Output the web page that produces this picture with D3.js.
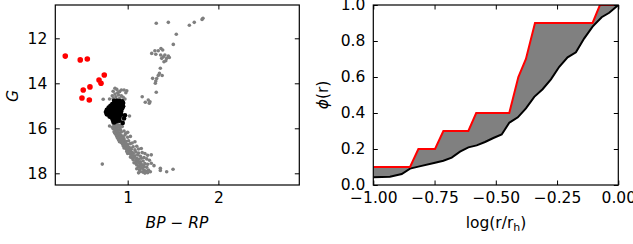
<!DOCTYPE html>
<html>
<head>
<meta charset="utf-8">
<script src="https://cdn.jsdelivr.net/npm/d3@7"></script>
<style>
  body { margin: 0; background: #fff; }
  svg text { font-family: "DejaVu Sans", sans-serif; fill: #000; }
</style>
</head>
<body>
<svg id="fig" width="633" height="244"></svg>
<script>
// left panel: colour-magnitude diagram, [BP-RP, G]
var grayStars = [
  // giant branch / red clump
  [1.315,11.33],[1.448,11.29],[1.536,11.82],[1.503,12.27],[1.68,11.42],[1.734,11.29],[1.82,11.16],[1.83,11.11],
  [1.265,12.67],[1.30,12.55],[1.337,12.55],[1.367,12.45],[1.386,12.52],[1.31,12.71],[1.364,12.74],[1.393,12.82],
  [1.41,12.74],[1.43,12.89],[1.448,12.79],[1.459,12.85],[1.42,13.0],[1.40,13.04],[1.375,12.89],
  [1.36,13.33],[1.35,13.56],[1.38,13.65],[1.337,13.65],[1.275,13.78],[1.32,13.79],[1.31,13.9],[1.305,14.0],
  [1.315,14.4],[1.16,14.6],[1.227,14.74],[1.194,14.84],[1.246,14.82],[1.238,14.89],
  // turnoff / subgiants
  [0.86,14.22],[0.88,14.27],[0.91,14.37],[0.93,14.30],[0.96,14.30],[0.98,14.42],[0.99,14.33],[0.89,14.42],
  [0.84,14.35],[0.86,14.48],[0.90,14.52],[0.93,14.55],[0.87,14.60],[0.95,14.62],[0.83,14.55],[0.80,14.70],
  [0.73,14.71],[0.84,14.68],[0.91,14.68],[0.97,14.70],[0.80,15.90],[1.02,15.45],
  // main sequence
  [0.84,15.78],[0.86,15.82],[0.88,15.80],[0.90,15.85],[0.85,15.88],[0.87,15.93],[0.89,15.90],[0.92,15.88],
  [0.83,15.95],[0.86,15.98],[0.88,15.97],[0.91,15.96],[0.94,15.92],
  [0.84,16.02],[0.86,16.05],[0.88,16.03],[0.90,16.08],[0.87,16.10],[0.89,16.13],[0.92,16.06],[0.85,16.15],
  [0.88,16.18],[0.90,16.20],[0.93,16.16],[0.96,16.12],[0.86,16.22],[0.91,16.24],[0.98,16.22],[1.00,16.18],
  [0.87,16.28],[0.89,16.30],[0.91,16.27],[0.93,16.32],[0.88,16.36],[0.90,16.39],[0.92,16.35],[0.95,16.38],
  [0.97,16.30],[0.89,16.44],[0.92,16.46],[0.94,16.42],[0.96,16.47],[1.00,16.40],[1.03,16.36],
  [0.90,16.52],[0.92,16.55],[0.94,16.51],[0.96,16.57],[0.91,16.60],[0.93,16.63],[0.95,16.61],[0.98,16.58],
  [1.01,16.55],[0.94,16.68],[0.96,16.70],[0.98,16.66],[1.00,16.72],[1.05,16.65],[1.08,16.60],[1.03,16.68],
  [0.95,16.78],[0.97,16.80],[0.99,16.77],[1.01,16.83],[0.96,16.87],[0.98,16.90],[1.00,16.86],[1.03,16.88],
  [1.06,16.82],[1.10,16.80],[0.99,16.95],[1.02,16.97],[1.04,16.93],[1.08,16.96],[1.12,16.92],[1.15,16.90],
  [0.99,17.03],[1.01,17.06],[1.03,17.02],[1.05,17.08],[1.00,17.12],[1.03,17.15],[1.06,17.11],[1.09,17.05],
  [1.12,17.10],[1.16,17.08],[1.19,17.12],[1.05,17.20],[1.08,17.22],[1.11,17.18],[1.14,17.24],[1.22,17.20],[1.26,17.18],
  [1.03,17.28],[1.05,17.32],[1.07,17.29],[1.10,17.34],[1.06,17.40],[1.09,17.43],[1.12,17.38],[1.15,17.33],
  [1.18,17.30],[1.21,17.36],[1.11,17.47],[1.14,17.49],[1.17,17.45],[1.24,17.42],
  [1.07,17.53],[1.09,17.56],[1.12,17.52],[1.14,17.58],[1.10,17.63],[1.13,17.66],[1.16,17.62],[1.19,17.57],
  [1.22,17.60],[1.26,17.55],[1.29,17.66],[1.12,17.72],[1.15,17.74],[1.18,17.70],[1.21,17.73],[1.36,17.78],
  [1.10,17.80],[1.13,17.84],[1.16,17.78],[1.18,17.86],[1.14,17.92],[1.17,17.95],[1.20,17.90],[1.23,17.85],
  [1.22,17.97],[1.25,17.93],[1.12,17.98],[1.19,17.99],[1.43,17.93],[1.50,17.82],[1.36,17.87],
  [0.72,17.59]
];

var blackStars = [
  [0.85,14.78],[0.88,14.77],[0.91,14.79],[0.94,14.80],[0.86,14.85],[0.90,14.84],[0.93,14.86],[0.95,14.88],
  [0.83,14.92],[0.87,14.93],[0.89,14.90],[0.92,14.94],[0.94,14.96],[0.81,15.00],[0.84,15.02],[0.86,14.99],
  [0.88,15.03],[0.91,15.01],[0.93,15.04],[0.95,15.02],
  [0.79,15.08],[0.82,15.10],[0.85,15.09],[0.87,15.12],[0.90,15.10],[0.92,15.13],[0.94,15.11],
  [0.77,15.18],[0.80,15.17],[0.83,15.20],[0.86,15.19],[0.88,15.22],[0.91,15.20],[0.93,15.23],
  [0.76,15.28],[0.78,15.31],[0.81,15.27],[0.84,15.30],[0.87,15.29],[0.89,15.32],[0.92,15.30],
  [0.77,15.38],[0.80,15.40],[0.83,15.37],[0.85,15.41],[0.88,15.39],[0.90,15.42],[0.93,15.40],
  [0.80,15.48],[0.82,15.50],[0.85,15.47],[0.87,15.51],[0.89,15.49],[0.91,15.52],
  [0.83,15.58],[0.86,15.60],[0.88,15.57],[0.90,15.61],[0.84,15.67],[0.87,15.70],[0.89,15.66],[0.85,15.74],
  [0.96,15.56],[0.945,15.76],[0.91,15.66],[0.97,15.42]
];

var redStars = [
  [0.312,12.79],[0.477,12.96],[0.555,12.92],[0.742,13.63],[0.684,13.85],
  [0.706,14.0],[0.584,14.16],[0.51,14.3],[0.496,14.65],[0.577,14.74]
];

var cmdXTicks = [1, 2];
var cmdYTicks = [12, 14, 16, 18];

// right panel: cumulative radial distributions
var redRadX = [-1.0,-0.85,-0.816,-0.748,-0.714,-0.612,-0.58,-0.445,-0.408,-0.377,-0.34,-0.105,-0.075,0.0];
var redRadY = [0.1,0.1,0.2,0.2,0.3,0.3,0.4,0.4,0.6,0.7,0.9,0.9,1.0,1.0];

var refRadX = [-1.0,-0.932,-0.884,-0.85,-0.816,-0.748,-0.714,-0.68,-0.646,-0.612,-0.578,-0.544,-0.51,-0.476,
               -0.445,-0.41,-0.377,-0.343,-0.309,-0.275,-0.241,-0.207,-0.173,-0.139,-0.105,-0.068,-0.037,0.0];
var refRadY = [0.043,0.046,0.061,0.091,0.102,0.124,0.135,0.152,0.185,0.209,0.22,0.239,0.261,0.281,
               0.346,0.376,0.426,0.49,0.532,0.587,0.657,0.709,0.737,0.815,0.88,0.932,0.957,1.0];

var radXTicks = [-1.0, -0.75, -0.5, -0.25, 0.0];
var radYTicks = [0, 0.2, 0.4, 0.6, 0.8, 1.0];

var svg = d3.select('#fig');
var fontSize = 15.5;
var tickLen = 4.5;

function minusFmt(f) {
  return function(d) { return f(d).replace('-', '\u2212'); };
}

function drawFrame(g, x, y, xTicks, yTicks, xFmt, yFmt) {
  var x0 = x.range()[0], x1 = x.range()[1];
  var y0 = y.range()[0], y1 = y.range()[1];

  // inward ticks on all four sides
  g.append('g').attr('transform', 'translate(0,' + y0 + ')')
    .call(d3.axisBottom(x).tickValues(xTicks).tickFormat(xFmt).tickSizeInner(-tickLen).tickSizeOuter(0).tickPadding(6.5));
  g.append('g').attr('transform', 'translate(0,' + y1 + ')')
    .call(d3.axisTop(x).tickValues(xTicks).tickFormat('').tickSizeInner(-tickLen).tickSizeOuter(0));
  g.append('g').attr('transform', 'translate(' + x0 + ',0)')
    .call(d3.axisLeft(y).tickValues(yTicks).tickFormat(yFmt).tickSizeInner(-tickLen).tickSizeOuter(0).tickPadding(8));
  g.append('g').attr('transform', 'translate(' + x1 + ',0)')
    .call(d3.axisRight(y).tickValues(yTicks).tickFormat('').tickSizeInner(-tickLen).tickSizeOuter(0));

  g.selectAll('.domain').remove();
  g.selectAll('.tick line').attr('stroke', '#000').attr('stroke-width', 1);
  g.selectAll('.tick text').style('font-size', fontSize + 'px').attr('fill', '#000');

  g.append('rect')
    .attr('x', x0).attr('y', y1)
    .attr('width', x1 - x0).attr('height', y0 - y1)
    .attr('fill', 'none').attr('stroke', '#000').attr('stroke-width', 1.2);
}

// ---------- left panel ----------
var xL = d3.scaleLinear().domain([0.202, 2.892]).range([55.3, 299.3]);
var yL = d3.scaleLinear().domain([18.52, 10.52]).range([185, 5]);

var left = svg.append('g');
left.append('clipPath').attr('id', 'clipL').append('rect')
  .attr('x', 55.3).attr('y', 5).attr('width', 244).attr('height', 180);

var dots = left.append('g').attr('clip-path', 'url(#clipL)');
dots.selectAll('.gray').data(grayStars).enter().append('circle')
  .attr('cx', function(d) { return xL(d[0]); })
  .attr('cy', function(d) { return yL(d[1]); })
  .attr('r', 1.8).attr('fill', '#7f7f7f');
dots.selectAll('.blk').data(blackStars).enter().append('circle')
  .attr('cx', function(d) { return xL(d[0]); })
  .attr('cy', function(d) { return yL(d[1]); })
  .attr('r', 2.3).attr('fill', '#000');
dots.selectAll('.red').data(redStars).enter().append('circle')
  .attr('cx', function(d) { return xL(d[0]); })
  .attr('cy', function(d) { return yL(d[1]); })
  .attr('r', 2.8).attr('fill', '#ff0000');

drawFrame(left, xL, yL, cmdXTicks, cmdYTicks, d3.format('d'), d3.format('d'));

var xlabL = left.append('text').attr('x', 177).attr('y', 228)
  .attr('text-anchor', 'middle').style('font-size', fontSize + 'px');
xlabL.append('tspan').attr('font-style', 'italic').text('BP');
xlabL.append('tspan').text(' \u2212 ');
xlabL.append('tspan').attr('font-style', 'italic').text('RP');

left.append('text').attr('transform', 'translate(18,96) rotate(-90)')
  .attr('text-anchor', 'middle').attr('font-style', 'italic')
  .style('font-size', fontSize + 'px').text('G');

// ---------- right panel ----------
var xR = d3.scaleLinear().domain([-1, 0]).range([373.3, 618.3]);
var yR = d3.scaleLinear().domain([0, 1]).range([185, 5]);

var right = svg.append('g');
right.append('clipPath').attr('id', 'clipR').append('rect')
  .attr('x', 373.3).attr('y', 5).attr('width', 245).attr('height', 180);

var redPts = redRadX.map(function(v, i) { return [v, redRadY[i]]; });
var refPts = refRadX.map(function(v, i) { return [v, refRadY[i]]; });

var line = d3.line()
  .x(function(d) { return xR(d[0]); })
  .y(function(d) { return yR(d[1]); });

var plot = right.append('g').attr('clip-path', 'url(#clipR)');
plot.append('path')
  .attr('d', line(redPts.concat(refPts.slice().reverse())) + 'Z')
  .attr('fill', '#808080').attr('stroke', 'none');
plot.append('path').attr('d', line(refPts))
  .attr('fill', 'none').attr('stroke', '#000').attr('stroke-width', 2);
plot.append('path').attr('d', line(redPts))
  .attr('fill', 'none').attr('stroke', '#ff0000').attr('stroke-width', 2);

drawFrame(right, xR, yR, radXTicks, radYTicks, minusFmt(d3.format('.2f')), d3.format('.1f'));

var xlabR = right.append('text').attr('x', 496).attr('y', 228)
  .attr('text-anchor', 'middle').style('font-size', fontSize + 'px');
xlabR.append('tspan').text('log(r/r');
xlabR.append('tspan').attr('font-size', '11px').attr('dy', 3).text('h');
xlabR.append('tspan').attr('dy', -3).text(')');

var ylabR = right.append('text').attr('transform', 'translate(328,95) rotate(-90)')
  .attr('text-anchor', 'middle').style('font-size', fontSize + 'px');
ylabR.append('tspan').attr('font-style', 'italic').text('\u03d5');
ylabR.append('tspan').text('(r)');
</script>
</body>
</html>
